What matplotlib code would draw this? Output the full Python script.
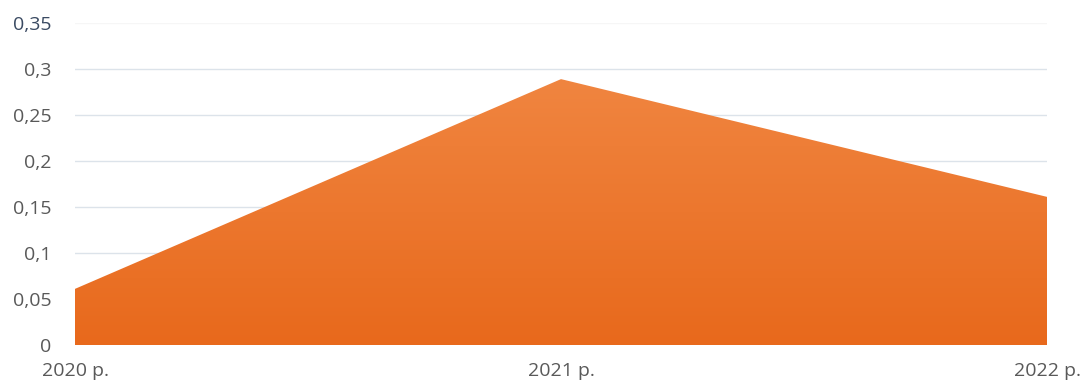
import numpy as np
import matplotlib
matplotlib.use("Agg")
import matplotlib.pyplot as plt
from matplotlib.colors import LinearSegmentedColormap
from matplotlib.patches import Polygon

categories = ["2020 р.", "2021 р.", "2022 р."]
values = [0.061, 0.289, 0.161]
yticks = [0, 0.05, 0.1, 0.15, 0.2, 0.25, 0.3, 0.35]
ytick_labels = ["0", "0,05", "0,1", "0,15", "0,2", "0,25", "0,3", "0,35"]

plt.rcParams['font.family'] = ['Open Sans', 'DejaVu Sans']

fig = plt.figure(figsize=(10.89, 3.87), dpi=100)
ax = fig.add_axes([75/1089, 1-345/387, (1047-75)/1089, (345-23)/387])

x = np.arange(len(categories))
ax.set_xlim(0, len(categories)-1)
ax.set_ylim(0, 0.35)

# gradient fill clipped to area polygon
cmap = LinearSegmentedColormap.from_list("org", ["#E8691C", "#F08540"])
grad = np.linspace(0, 1, 256).reshape(-1, 1)
im = ax.imshow(grad, extent=[0, len(categories)-1, 0, max(values)], origin="lower",
               aspect="auto", cmap=cmap, zorder=2)
verts = [(0, 0)] + list(zip(x, values)) + [(x[-1], 0)]
poly = Polygon(verts, closed=True, facecolor="none", edgecolor="none", transform=ax.transData)
ax.add_patch(poly)
im.set_clip_path(poly)

ax.set_yticks(yticks)
ax.set_yticklabels(ytick_labels)
ax.set_xticks(x)
ax.set_xticklabels(categories)
ax.grid(axis="y", color="#DCE3EA", linewidth=1)
gl = ax.get_ygridlines()
gl[-1].set_color("#F6F6F6")
for s in ax.spines.values():
    s.set_visible(False)
ax.set_axisbelow(True)
ax.tick_params(axis="both", length=0, labelsize=14, colors="#595959")
ax.get_yticklabels()[-1].set_color("#3A4A62")
ax.tick_params(axis="y", pad=17)
ax.tick_params(axis="x", pad=12)

fig.savefig("out.png", dpi=100, facecolor="white")
